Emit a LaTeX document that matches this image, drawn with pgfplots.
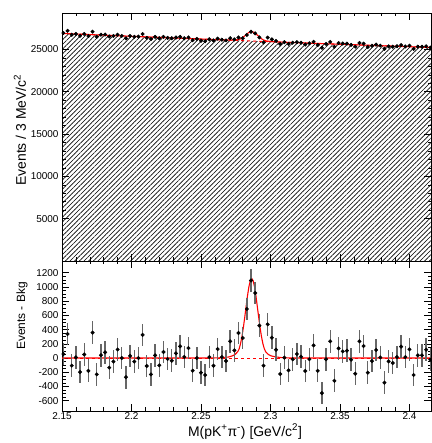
\documentclass[border=0pt]{standalone}
\usepackage{pgfplots}
\pgfplotsset{compat=1.18}
\usepackage{pgfplotstable}
\usepackage{fontspec}
\setmainfont{Liberation Sans}
\usetikzlibrary{patterns.meta}

\pgfplotstableread{
x y
2.151 26936
2.154 27198
2.157 26732
2.160 26829
2.163 26601
2.166 26828
2.169 26577
2.172 27094
2.175 26486
2.178 26736
2.181 26756
2.184 26521
2.187 26586
2.190 26736
2.193 26596
2.196 26306
2.199 26586
2.202 26486
2.205 26516
2.208 26821
2.211 26363
2.214 26226
2.217 26474
2.220 26314
2.223 26482
2.226 26364
2.229 26320
2.232 26405
2.235 26484
2.238 26315
2.241 26420
2.244 26083
2.247 26242
2.250 26017
2.253 25965
2.256 26199
2.259 26057
2.262 26273
2.265 26141
2.268 26066
2.271 26324
2.274 26178
2.277 26404
2.280 26315
2.283 26704
2.286 27086
2.289 26892
2.292 26414
2.295 25833
2.298 26395
2.301 26188
2.304 26001
2.307 25641
2.310 25852
2.313 25656
2.316 25794
2.319 25850
2.322 25794
2.325 25573
2.328 25721
2.331 25898
2.334 25522
2.337 25191
2.340 25650
2.343 25884
2.346 25311
2.349 25749
2.352 25689
2.355 25680
2.358 25537
2.361 25322
2.364 25760
2.367 25676
2.370 25284
2.373 25431
2.376 25569
2.379 25447
2.382 25074
2.385 25357
2.388 25316
2.391 25383
2.394 25512
2.397 25349
2.400 25440
2.403 25062
2.406 25323
2.409 25306
2.412 25368
2.415 25211
}\topdata

\pgfplotstableread{
x y
2.151 56
2.154 338
2.157 -107
2.160 10
2.163 -197
2.166 50
2.169 -180
2.172 357
2.175 -230
2.178 40
2.181 80
2.184 -135
2.187 -50
2.190 120
2.193 0
2.196 -270
2.199 30
2.202 -50
2.205 0
2.208 325
2.211 -112
2.214 -230
2.217 38
2.220 -103
2.223 85
2.226 -14
2.229 -38
2.232 66
2.235 165
2.238 15
2.241 140
2.244 -178
2.247 0
2.250 -206
2.253 -239
2.256 14
2.259 -108
2.262 127
2.265 14
2.268 -42
2.271 235
2.274 108
2.277 352
2.280 282
2.283 690
2.286 1090
2.289 915
2.292 456
2.295 -107
2.298 474
2.301 286
2.304 117
2.307 -225
2.310 5
2.313 -173
2.316 -17
2.319 57
2.322 19
2.325 -183
2.328 -17
2.331 178
2.334 -180
2.337 -493
2.340 -17
2.343 235
2.346 -320
2.349 136
2.352 94
2.355 103
2.358 -23
2.361 -220
2.364 235
2.367 169
2.370 -206
2.373 -42
2.376 113
2.379 9
2.382 -347
2.385 -47
2.388 -70
2.391 14
2.394 160
2.397 14
2.400 122
2.403 -239
2.406 38
2.409 38
2.412 117
2.415 -23
}\resdata

\pgfplotstableread{
x y
2.150 26887
2.175 26716
2.200 26548
2.225 26384
2.250 26222
2.275 26064
2.300 25908
2.325 25756
2.350 25607
2.375 25461
2.400 25318
2.4155 25231
}\bkgcurve

\pgfplotstableread{
x y
2.150 26887
2.175 26716
2.200 26548
2.225 26384
2.250 26222
2.256 26182
2.266 26125
2.270 26110
2.2745 26117
2.2765 26144
2.2785 26247
2.2805 26459
2.2825 26747
2.2845 27009
2.2865 27112
2.2885 26985
2.2905 26697
2.2925 26385
2.2945 26147
2.2965 26020
2.2985 25967
2.3005 25935
2.304 25898
2.308 25864
2.313 25829
2.320 25784
2.325 25756
2.350 25607
2.375 25461
2.400 25318
2.4155 25231
}\totcurve

\pgfplotstableread{
x y
2.150 0
2.256 0
2.262 2
2.266 6
2.270 15
2.2725 30
2.2745 50
2.2765 90
2.2775 130
2.2785 205
2.2795 305
2.2805 430
2.2815 575
2.2825 730
2.2835 880
2.2845 1005
2.2855 1090
2.2865 1120
2.2875 1090
2.2885 1005
2.2895 880
2.2905 730
2.2915 575
2.2925 430
2.2935 305
2.2945 205
2.2955 135
2.2965 90
2.2985 50
2.3005 30
2.304 15
2.308 6
2.313 2
2.320 0
2.4155 0
}\sigcurve

\pgfplotsset{
  rootstyle/.style={
    scale only axis,
    width=369bp,
    xmin=2.15, xmax=2.4155,
    tick align=inside,
    xtick pos=both, ytick pos=both,
    major tick length=7bp,
    minor tick length=3.5bp,
    every tick/.style={black, line width=0.5pt},
    xtick={2.15,2.2,2.25,2.3,2.35,2.4},
    minor x tick num=4,
    axis line style={line width=0.6pt},
    /pgf/number format/assume math mode=true,
    /pgf/number format/1000 sep={},
    tick label style={font=\fontsize{10}{12}\selectfont},
  }
}

\begin{document}
\begin{tikzpicture}
\useasboundingbox (0,0) rectangle (432bp,443bp);

% top panel
\begin{axis}[rootstyle,
  at={(62bp,182bp)}, anchor=south west,
  height=248bp,
  ymin=0, ymax=29300,
  ytick={5000,10000,15000,20000,25000},
  minor y tick num=4,
  xticklabel=\empty,
  scaled y ticks=false,
  ylabel={Events / 3 MeV/c\textsuperscript{2}},
  ylabel style={at={(axis description cs:-0.114,0.528)}, anchor=center, font=\fontsize{14}{16}\selectfont},
]
\addplot[draw=none, pattern={Lines[angle=45, distance=3.3bp, line width=0.65pt]}, pattern color=black] table {\bkgcurve} \closedcycle;
\addplot[red, dashed, line width=0.9pt] table {\bkgcurve};
\addplot[red, line width=1.1pt] table {\totcurve};
\addplot[only marks, mark=*, mark size=1.8bp, black,
  error bars/.cd, y dir=both, y fixed=160, error mark=none,
  error bar style={black, line width=0.6pt}] table {\topdata};
\end{axis}

% bottom panel
\begin{axis}[rootstyle,
  at={(62bp,32bp)}, anchor=south west,
  height=150bp,
  ymin=-745, ymax=1365,
  ytick={-600,-400,-200,0,200,400,600,800,1000,1200},
  minor y tick num=3,
  xlabel={M(pK\textsuperscript{+}π\textsuperscript{-}) [GeV/c\textsuperscript{2}]},
  xlabel style={at={(axis description cs:0.496,-0.167)}, anchor=base, font=\fontsize{14}{16}\selectfont},
  ylabel={Events - Bkg},
  ylabel style={at={(axis description cs:-0.108,0.633)}, anchor=center, font=\fontsize{12}{14}\selectfont},
  xticklabel style={yshift=1.5bp},
]
\addplot[red, dashed, line width=0.9pt] coordinates {(2.15,0) (2.4155,0)};
\addplot[red, line width=1.1pt] table {\sigcurve};
\addplot[only marks, mark=*, mark size=1.8bp, black,
  error bars/.cd, y dir=both, y fixed=160, error mark=none,
  error bar style={black!60, line width=1.4pt}] table {\resdata};
\end{axis}
\end{tikzpicture}
\end{document}
